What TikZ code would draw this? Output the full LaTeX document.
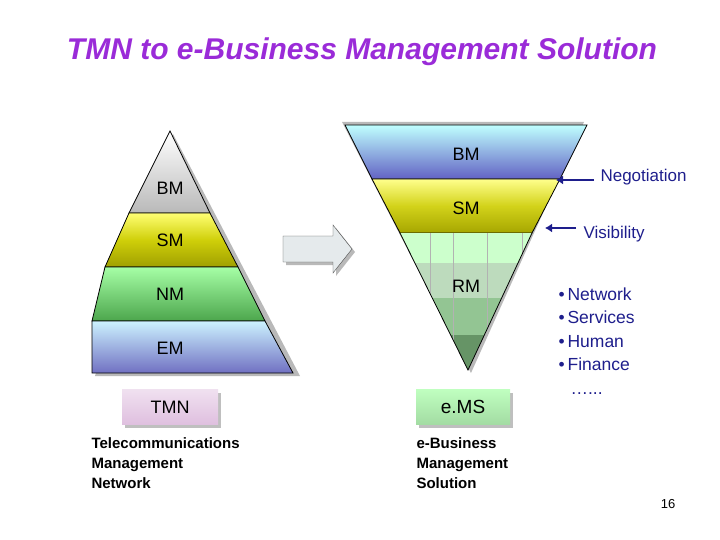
\documentclass[tikz,border=0pt]{standalone}
\usepackage{fontspec}
\setmainfont{Liberation Sans}
\usetikzlibrary{shapes.arrows,arrows.meta}
\definecolor{ttl}{HTML}{9A2BD8}
\definecolor{navy}{HTML}{1E1E8C}
\begin{document}
\begin{tikzpicture}[x=1pt,y=-1pt,
 band/.style={draw=black,line width=0.8pt},
 lbl/.style={font=\fontsize{18}{20}\selectfont},
 side/.style={font=\fontsize{17}{19}\selectfont,text=navy,anchor=west},
 small/.style={font=\bfseries\fontsize{15}{20}\selectfont,align=left,anchor=north west},
 pin/.style={navy,line width=2.5pt,-{Latex[length=7pt,width=9pt]}}]
\useasboundingbox (0,0) rectangle (720,540);
\node[font=\bfseries\itshape\fontsize{30}{34}\selectfont,text=ttl] (title) at (362,52) {TMN to e-Business Management Solution};
% left pyramid shadow
\fill[gray!55] (173,134) -- (300,376) -- (95,376) -- cycle;
% left pyramid
\shade[band,top color=white,bottom color=gray!55] (170,131) -- (210,213) -- (129,213) -- cycle;
\shade[band,top color=yellow!55,bottom color=olive!75!yellow] (129,213) -- (210,213) -- (238,267) -- (105,267) -- cycle;
\shade[band,top color=green!35,bottom color=green!50!black!70] (105,267) -- (238,267) -- (265,321) -- (92,321) -- cycle;
\shade[band,top color=blue!25!cyan!20,bottom color=blue!40!gray!80] (92,321) -- (265,321) -- (293,373) -- (92,373) -- cycle;
\node[lbl] (lbm) at (170,188) {BM};
\node[lbl] (lsm) at (170,240) {SM};
\node[lbl] (lnm) at (170,294) {NM};
\node[lbl] (lem) at (170,348) {EM};
% block arrow
\fill[gray!55] (286,239) -- (336,239) -- (336,228) -- (355,252) -- (336,276) -- (336,265) -- (286,265) -- cycle;
\draw[draw=gray!60!black,fill=cyan!15!gray!20] (283,236) -- (333,236) -- (333,225) -- (352,249) -- (333,273) -- (333,262) -- (283,262) -- cycle;
% inverted pyramid shadow
\fill[gray!55] (342,122) -- (584,122) -- (471,373) -- cycle;
\shade[band,top color=cyan!25,bottom color=blue!45!gray!85] (345,125) -- (587,125) -- (560,179) -- (372,179) -- cycle;
\shade[band,top color=yellow!45,bottom color=olive!70!yellow] (372,179) -- (560,179) -- (532,233) -- (400,233) -- cycle;
\begin{scope}
\clip (400,233) -- (532,233) -- (468,370) -- cycle;
\fill[green!20] (390,233) rectangle (540,263);
\fill[green!30!gray!40] (390,263) rectangle (540,298);
\fill[green!30!gray!65] (390,298) rectangle (540,335);
\fill[green!30!black!60] (390,335) rectangle (540,372);
\foreach \x in {430,453,487,522} \draw[gray!60] (\x,233) -- (\x,372);
\end{scope}
\draw[band] (400,233) -- (468,370) -- (532,233);
\node[lbl] (rbm) at (466,154) {BM};
\node[lbl] (rsm) at (466,208) {SM};
\node[lbl] (rrm) at (466,286) {RM};
% label boxes
\node[fill=gray!50,minimum width=96pt,minimum height=35pt] (tmnsh) at (173,410) {};
\node[top color=violet!12,bottom color=violet!25,minimum width=96pt,minimum height=35pt,lbl] (tmn) at (170,407) {TMN};
\node[fill=gray!50,minimum width=94pt,minimum height=35pt] (emssh) at (466,410) {};
\node[top color=green!25,bottom color=green!45!gray!50,minimum width=94pt,minimum height=35pt,font=\fontsize{19}{21}\selectfont] (ems) at (463,407) {e.MS};
\node[small] (tmntxt) at (88,434) {Telecommunications\\Management\\Network};
\node[small] (emstxt) at (413,434) {e-Business\\Management\\Solution};
% side arrows
\coordinate (na) at (594,180);
\coordinate (nb) at (556,180);
\draw[pin] (na) -- (nb);
\coordinate (va) at (576,228);
\coordinate (vb) at (545,228);
\draw[pin] (va) -- (vb);
\node[side] (neg) at (597,177) {Negotiation};
\node[side] (vis) at (580,234) {Visibility};
\node[side,align=left,anchor=north west,font=\fontsize{17.5}{23.5}\selectfont] (list) at (555,284) {\textbullet\,Network\\\textbullet\,Services\\\textbullet\,Human\\\textbullet\,Finance\\\hspace{12pt}\ldots...};
\node[font=\fontsize{13}{15}\selectfont] (pg) at (668,504) {16};
\end{tikzpicture}
\end{document}
